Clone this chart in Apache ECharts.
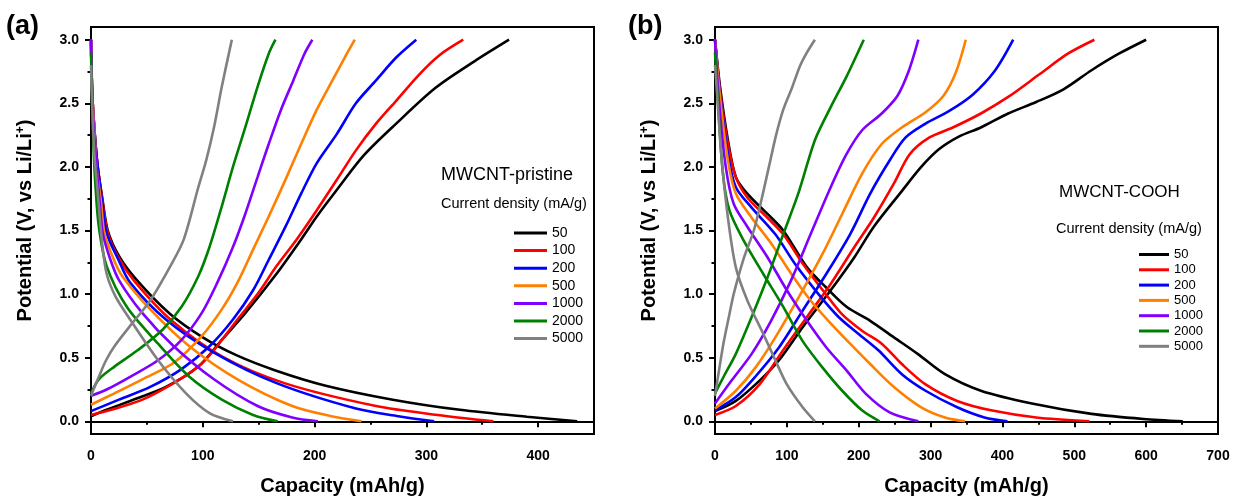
<!DOCTYPE html>
<html>
<head>
<meta charset="utf-8">
<script src="https://cdn.jsdelivr.net/npm/echarts@6.0.0/dist/echarts.min.js"></script>
<style>
  html, body { margin: 0; padding: 0; background: #fff; }
  #chart { width: 1236px; height: 503px; }
</style>
</head>
<body>
<div id="chart"></div>
<script>
// current densities (mA/g) and their line colours
const rates = ["50", "100", "200", "500", "1000", "2000", "5000"];
const colors = ["#000000", "#ff0000", "#0000ff", "#ff8000", "#8000ff", "#008000", "#808080"];

// (a) MWCNT-pristine, charge curves [capacity, potential]
const aC50 = [[0,0.04],[14,0.09],[35,0.16],[67,0.27],[96,0.43],[117,0.64],[138,0.85],[166,1.16],[188,1.43],[202,1.61],[220,1.82],[244,2.09],[273,2.34],[308,2.62],[343,2.83],[374,3.0]];
const aC100 = [[0,0.05],[18,0.09],[46,0.17],[74,0.3],[96,0.43],[110,0.56],[131,0.8],[149,1.0],[166,1.22],[184,1.43],[202,1.66],[220,1.9],[237,2.13],[255,2.34],[273,2.52],[294,2.73],[312,2.88],[333,3.0]];
const aC200 = [[0,0.08],[25,0.17],[53,0.27],[81,0.41],[106,0.59],[127,0.8],[145,1.03],[159,1.27],[174,1.53],[188,1.79],[202,2.03],[220,2.26],[237,2.5],[255,2.68],[273,2.86],[291,3.0]];
const aC500 = [[0,0.13],[21,0.22],[46,0.33],[74,0.46],[99,0.67],[117,0.88],[131,1.09],[145,1.35],[159,1.61],[174,1.9],[188,2.18],[202,2.45],[216,2.68],[227,2.86],[236,3.0]];
const aC1000 = [[0,0.2],[14,0.25],[35,0.35],[60,0.48],[81,0.64],[99,0.85],[113,1.09],[127,1.37],[138,1.63],[149,1.92],[159,2.18],[170,2.45],[181,2.68],[191,2.89],[198,3.0]];
const aC2000 = [[0,0.22],[7,0.33],[21,0.43],[42,0.56],[64,0.72],[81,0.9],[96,1.14],[106,1.37],[117,1.69],[127,2.0],[138,2.31],[149,2.63],[159,2.89],[165,3.0]];
const aC5000 = [[0,0.2],[7,0.35],[13.5,0.48],[21,0.59],[35,0.75],[53,0.95],[71,1.22],[83,1.43],[96,1.84],[103,2.05],[110,2.31],[117,2.63],[126,3.0]];

// (a) discharge curves
const aD50 = [[0,3.0],[1,2.6],[3,2.3],[6,2.0],[10,1.76],[15,1.5],[25,1.3],[40,1.12],[70,0.85],[100,0.66],[130,0.52],[165,0.4],[210,0.28],[270,0.17],[330,0.09],[390,0.035],[435,0]];
const aD100 = [[0,3.0],[1,2.6],[3,2.3],[6,2.0],[10,1.75],[15,1.48],[25,1.28],[39,1.1],[71,0.8],[117,0.51],[173,0.3],[255,0.12],[310,0.05],[360,0]];
const aD200 = [[0,3.0],[1,2.6],[3,2.3],[6,2.0],[10,1.73],[14,1.48],[24,1.28],[35,1.09],[67,0.8],[110,0.54],[166,0.3],[237,0.1],[275,0.04],[307,0]];
const aD500 = [[0,3.0],[1,2.6],[3,2.3],[5,2.0],[9,1.72],[12,1.48],[20,1.28],[28,1.14],[53,0.88],[88,0.59],[131,0.33],[180,0.12],[215,0.04],[242,0]];
const aD1000 = [[0,3.0],[1,2.6],[2.5,2.3],[5,2.0],[8,1.7],[10.5,1.48],[17,1.28],[25,1.11],[46,0.85],[74,0.59],[110,0.33],[149,0.12],[180,0.03],[203,0]];
const aD2000 = [[0,2.9],[1,2.5],[2.5,2.1],[4,1.85],[7,1.53],[14,1.22],[32,0.9],[60,0.61],[88,0.35],[117,0.17],[145,0.05],[167,0]];
const aD5000 = [[0,2.8],[1,2.5],[3,2.1],[6,1.8],[10,1.4],[14,1.16],[22,0.98],[35,0.8],[60,0.48],[85,0.22],[106,0.065],[127,0]];

// (b) MWCNT-COOH, charge curves
const bC50 = [[0,0.08],[29,0.16],[62,0.32],[89,0.48],[122,0.74],[161,1.03],[194,1.29],[221,1.53],[260,1.81],[287,2.0],[312,2.14],[340,2.24],[370,2.31],[408,2.42],[447,2.51],[485,2.61],[524,2.76],[562,2.89],[600,3.0]];
const bC100 = [[0,0.05],[29,0.12],[62,0.29],[95,0.56],[128,0.82],[161,1.08],[194,1.37],[221,1.6],[249,1.87],[271,2.1],[298,2.23],[331,2.31],[370,2.42],[408,2.55],[452,2.73],[491,2.89],[528,3.0]];
const bC200 = [[0,0.085],[29,0.19],[56,0.35],[89,0.58],[122,0.87],[155,1.16],[188,1.47],[216,1.79],[243,2.05],[265,2.23],[293,2.34],[326,2.44],[359,2.57],[390,2.76],[415,3.0]];
const bC500 = [[0,0.1],[29,0.24],[56,0.42],[84,0.66],[117,0.98],[150,1.32],[177,1.63],[205,1.95],[232,2.18],[260,2.31],[293,2.43],[318,2.56],[335,2.74],[349,3.0]];
const bC1000 = [[0,0.14],[23,0.32],[51,0.53],[78,0.79],[106,1.11],[133,1.47],[161,1.84],[183,2.1],[205,2.29],[232,2.42],[254,2.56],[270,2.76],[283,3.0]];
const bC2000 = [[0,0.22],[12,0.35],[29,0.53],[51,0.82],[73,1.13],[95,1.47],[117,1.81],[139,2.21],[161,2.47],[183,2.71],[207,3.0]];
const bC5000 = [[0,0.2],[5,0.38],[12,0.62],[20,0.84],[26,1.0],[40,1.28],[54,1.5],[65,1.75],[75,2.0],[85,2.25],[95,2.45],[107,2.62],[118,2.79],[128,2.9],[139,3.0]];

// (b) discharge curves
const bD50 = [[0,3.0],[7,2.63],[18,2.21],[29,1.92],[45,1.79],[73,1.63],[95,1.5],[128,1.21],[155,1.05],[183,0.9],[216,0.79],[249,0.66],[282,0.53],[320,0.37],[370,0.24],[441,0.14],[524,0.058],[596,0.018],[651,0]];
const bD100 = [[0,3.0],[7,2.6],[18,2.18],[29,1.92],[45,1.76],[73,1.6],[95,1.47],[122,1.24],[150,1.03],[177,0.84],[205,0.71],[232,0.61],[260,0.45],[293,0.29],[337,0.16],[386,0.084],[447,0.03],[521,0]];
const bD200 = [[0,3.0],[7,2.58],[18,2.1],[29,1.84],[51,1.68],[84,1.47],[111,1.24],[144,1.0],[172,0.82],[199,0.69],[227,0.56],[260,0.37],[293,0.24],[337,0.11],[375,0.03],[407,0]];
const bD500 = [[0,3.0],[7,2.55],[18,2.05],[29,1.79],[51,1.6],[78,1.4],[106,1.16],[133,0.95],[161,0.77],[188,0.61],[216,0.45],[249,0.27],[287,0.11],[320,0.03],[348,0]];
const bD1000 = [[0,3.0],[5.5,2.52],[15,2.0],[26,1.71],[45,1.53],[73,1.29],[100,1.03],[128,0.79],[155,0.58],[183,0.4],[210,0.215],[243,0.07],[283,0]];
const bD2000 = [[0,2.9],[4,2.52],[11,1.95],[20,1.66],[40,1.42],[67,1.16],[95,0.9],[122,0.63],[150,0.42],[177,0.24],[205,0.084],[229,0]];
const bD5000 = [[0,2.8],[2,2.65],[9,2.08],[18,1.6],[29,1.21],[45,0.95],[67,0.69],[84,0.48],[100,0.29],[122,0.11],[139,0]];

// tick positions
const aXMajor = [0, 100, 200, 300, 400];
const aXMinor = [50, 150, 250, 350];
const bXMajor = [0, 100, 200, 300, 400, 500, 600, 700];
const bXMinor = [50, 150, 250, 350, 450, 550, 650];
const yMajor = [0, 0.5, 1.0, 1.5, 2.0, 2.5, 3.0];
const yMinor = [0.25, 0.75, 1.25, 1.75, 2.25, 2.75];

const aCharge = [aC50, aC100, aC200, aC500, aC1000, aC2000, aC5000];
const aDischarge = [aD50, aD100, aD200, aD500, aD1000, aD2000, aD5000];
const bCharge = [bC50, bC100, bC200, bC500, bC1000, bC2000, bC5000];
const bDischarge = [bD50, bD100, bD200, bD500, bD1000, bD2000, bD5000];

const FONT = "'Liberation Sans', Arial, sans-serif";

const chart = echarts.init(document.getElementById("chart"), null, { renderer: "canvas" });

const makeSeries = (data, i, axisIdx) => ({
  name: rates[i],
  type: "line",
  data: data,
  xAxisIndex: axisIdx,
  yAxisIndex: axisIdx,
  smooth: 0.3,
  symbol: "none",
  silent: true,
  lineStyle: { color: colors[i], width: 2.6 },
  itemStyle: { color: colors[i] },
});

const series = [];
rates.forEach((r, i) => {
  series.push(makeSeries(aDischarge[i], i, 0));
  series.push(makeSeries(aCharge[i], i, 0));
  series.push(makeSeries(bDischarge[i], i, 2));
  series.push(makeSeries(bCharge[i], i, 2));
});

const mainX = (grid, max, major) => ({
  gridIndex: grid,
  type: "value",
  position: "bottom",
  min: 0,
  max: max,
  name: "Capacity (mAh/g)",
  nameLocation: "middle",
  nameGap: 42,
  nameTextStyle: { fontFamily: FONT, fontSize: 20, fontWeight: "bold", color: "#000" },
  axisLine: { lineStyle: { color: "#000", width: 2 } },
  axisTick: { customValues: major, length: 6, lineStyle: { color: "#000", width: 2 } },
  axisLabel: {
    customValues: major,
    margin: 15,
    fontFamily: FONT,
    fontSize: 14,
    fontWeight: "bold",
    color: "#000",
  },
  splitLine: { show: false },
});

const minorX = (grid, max, minor) => ({
  gridIndex: grid,
  type: "value",
  position: "bottom",
  min: 0,
  max: max,
  axisLine: { show: false },
  axisTick: { customValues: minor, length: 3.5, lineStyle: { color: "#000", width: 2 } },
  axisLabel: { show: false },
  splitLine: { show: false },
});

const mainY = (grid) => ({
  gridIndex: grid,
  type: "value",
  position: "left",
  min: -0.1,
  max: 3.1,
  name: "Potential (V, vs Li/Li{s|+})",
  nameLocation: "middle",
  nameGap: 56,
  nameRotate: 90,
  nameTextStyle: {
    fontFamily: FONT,
    fontSize: 20,
    fontWeight: "bold",
    color: "#000",
    padding: [0, 0, 0, 20],
    rich: {
      s: { fontFamily: FONT, fontSize: 12, fontWeight: "bold", color: "#000", verticalAlign: "top", lineHeight: 20 },
    },
  },
  axisLine: { lineStyle: { color: "#000", width: 2 } },
  axisTick: { customValues: yMajor, length: 6, lineStyle: { color: "#000", width: 2 } },
  axisLabel: {
    customValues: yMajor,
    margin: 12,
    fontFamily: FONT,
    fontSize: 14,
    fontWeight: "bold",
    color: "#000",
    formatter: (v) => v.toFixed(1),
  },
  splitLine: { show: false },
});

const minorY = (grid) => ({
  gridIndex: grid,
  type: "value",
  position: "left",
  min: -0.1,
  max: 3.1,
  axisLine: { show: false },
  axisTick: { customValues: yMinor, length: 3.5, lineStyle: { color: "#000", width: 2 } },
  axisLabel: { show: false },
  splitLine: { show: false },
});

const legendBox = (left, top, w, fs, gap) => ({
  orient: "vertical",
  left: left,
  top: top,
  padding: 0,
  itemWidth: w,
  itemHeight: 3,
  itemGap: gap,
  icon: "rect",
  selectedMode: false,
  data: rates,
  textStyle: { fontFamily: FONT, fontSize: fs, lineHeight: fs, color: "#000", padding: 0 },
});

const titleText = (text, left, top, size, weight) => ({
  text: text,
  left: left,
  top: top,
  padding: 0,
  textStyle: { fontFamily: FONT, fontSize: size, fontWeight: weight, color: "#000", lineHeight: size },
});

const option = {
  backgroundColor: "#fff",
  animation: false,
  title: [
    titleText("(a)", 6, 13, 27, "bold"),
    titleText("(b)", 628, 13, 27, "bold"),
    titleText("MWCNT-pristine", 441, 166, 18, "normal"),
    titleText("Current density (mA/g)", 441, 197, 14.5, "normal"),
    titleText("MWCNT-COOH", 1059, 184, 17, "normal"),
    titleText("Current density (mA/g)", 1056, 222, 14.5, "normal"),
  ],
  legend: [
    legendBox(514, 226, 33, 14, 3.6),
    legendBox(1139, 248, 30, 13, 2.3),
  ],
  grid: [
    { left: 91, top: 27, width: 503, height: 407, show: true, borderColor: "#000", borderWidth: 2, backgroundColor: "transparent" },
    { left: 715, top: 27, width: 503, height: 407, show: true, borderColor: "#000", borderWidth: 2, backgroundColor: "transparent" },
  ],
  xAxis: [
    mainX(0, 450, aXMajor),
    minorX(0, 450, aXMinor),
    mainX(1, 700, bXMajor),
    minorX(1, 700, bXMinor),
  ],
  yAxis: [mainY(0), minorY(0), mainY(1), minorY(1)],
  series: series,
};

chart.setOption(option);
</script>
</body>
</html>
